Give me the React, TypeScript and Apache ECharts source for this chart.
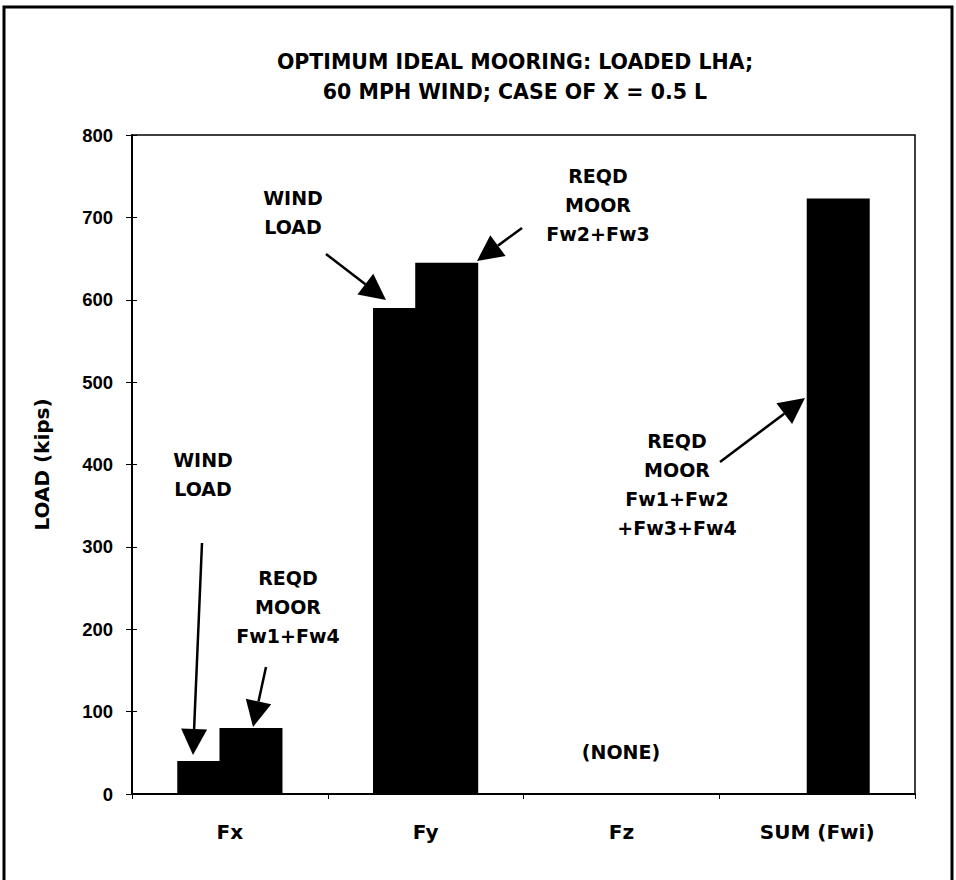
import React, { useEffect, useRef } from "react";
import * as echarts from "echarts";

const categories = ["Fx", "Fy", "Fz", "SUM (Fwi)"];
const windLoad: (number | null)[] = [40, 590, null, null];
const reqdMoor: (number | null)[] = [80, 645, null, 723];
const yTicks = { min: 0, max: 800, interval: 100 };

const titleLines = ["OPTIMUM IDEAL MOORING: LOADED LHA;", "60 MPH WIND; CASE OF X = 0.5 L"];

const annotations = [
  { text: "WIND\nLOAD", x: 203, y: 474, from: [202, 543], to: [193, 755] },
  { text: "REQD\nMOOR\nFw1+Fw4", x: 288, y: 607, from: [266, 667], to: [253, 727] },
  { text: "WIND\nLOAD", x: 293, y: 212, from: [326, 254], to: [386, 300] },
  { text: "REQD\nMOOR\nFw2+Fw3", x: 598, y: 205, from: [522, 228], to: [477, 261] },
  { text: "REQD\nMOOR\nFw1+Fw2\n+Fw3+Fw4", x: 677, y: 484, from: [720, 462], to: [805, 398] },
  { text: "(NONE)", x: 621, y: 752, from: null, to: null },
];

const BOLD = "DejaVu Sans";

function arrow(from: number[], to: number[]) {
  const dx = to[0] - from[0];
  const dy = to[1] - from[1];
  const len = Math.sqrt(dx * dx + dy * dy);
  const ux = dx / len;
  const uy = dy / len;
  const L = 26;
  const W = 26;
  const bx = to[0] - ux * L;
  const by = to[1] - uy * L;
  const nx = -uy;
  const ny = ux;
  return [
    {
      type: "line",
      shape: { x1: from[0], y1: from[1], x2: bx, y2: by },
      style: { stroke: "#000", lineWidth: 2.5 },
      silent: true,
    },
    {
      type: "polygon",
      shape: {
        points: [
          [to[0], to[1]],
          [bx + (nx * W) / 2, by + (ny * W) / 2],
          [bx - (nx * W) / 2, by - (ny * W) / 2],
        ],
      },
      style: { fill: "#000" },
      silent: true,
    },
  ];
}

export default function App() {
  const ref = useRef<HTMLDivElement>(null);
  useEffect(() => {
    if (!ref.current) return;
    const chart = echarts.init(ref.current, null, { renderer: "svg" });
    const graphics: any[] = [
      {
        type: "rect",
        shape: { x: 4, y: 7, width: 948, height: 878 },
        style: { fill: "none", stroke: "#000", lineWidth: 3 },
        silent: true,
      },
    ];
    annotations.forEach((a) => {
      graphics.push({
        type: "text",
        x: a.x,
        y: a.y,
        style: {
          text: a.text,
          font: `bold 19px "${BOLD}"`,
          fill: "#000",
          align: "center",
          verticalAlign: "middle",
          lineHeight: 29,
        },
        silent: true,
      });
      if (a.from && a.to) graphics.push(...arrow(a.from, a.to));
    });

    const baseY = {
      type: "value",
      min: yTicks.min,
      max: yTicks.max,
      interval: yTicks.interval,
      position: "left",
      splitLine: { show: false },
    };

    chart.setOption({
      animation: false,
      backgroundColor: "#fff",
      title: {
        text: titleLines.join("\n"),
        left: 510,
        top: 42,
        textAlign: "center",
        textStyle: {
          fontFamily: BOLD,
          fontWeight: "bold",
          fontSize: 20.5,
          lineHeight: 30,
          color: "#000",
        },
      },
      grid: {
        left: 132,
        right: 41,
        top: 135,
        bottom: 86,
        show: true,
        borderColor: "#000",
        borderWidth: 1.5,
        containLabel: false,
      },
      xAxis: {
        type: "category",
        data: categories,
        axisLine: { lineStyle: { color: "#000", width: 2 } },
        axisTick: { show: true, length: 5, lineStyle: { color: "#000" } },
        axisLabel: {
          margin: 28,
          color: "#000",
          fontFamily: BOLD,
          fontWeight: "bold",
          fontSize: 20,
        },
      },
      yAxis: [
        {
          ...baseY,
          name: "LOAD (kips)",
          nameLocation: "middle",
          nameGap: 80,
          nameRotate: 90,
          nameTextStyle: {
            fontFamily: BOLD,
            fontWeight: "bold",
            fontSize: 20,
            color: "#000",
          },
          axisLine: { show: true, lineStyle: { color: "#000", width: 2 } },
          axisTick: { show: true, length: 6, lineStyle: { color: "#000" } },
          axisLabel: {
            margin: 19,
            color: "#000",
            fontFamily: "Liberation Sans",
            fontWeight: "bold",
            fontSize: 18.5,
          },
        },
        {
          ...baseY,
          axisLine: { show: false },
          axisTick: { show: true, inside: true, length: 5, lineStyle: { color: "#000" } },
          axisLabel: { show: false },
        },
      ],
      series: [
        {
          name: "WIND LOAD",
          type: "bar",
          data: windLoad,
          barWidth: 63,
          barGap: "-33%",
          itemStyle: { color: "#000" },
        },
        {
          name: "REQD MOOR",
          type: "bar",
          data: reqdMoor,
          barWidth: 63,
          barGap: "-33%",
          itemStyle: { color: "#000" },
        },
      ],
      graphic: graphics,
    });
    return () => chart.dispose();
  }, []);
  return (
    <div
      ref={ref}
      style={{ position: "absolute", left: 0, top: 0, width: 956, height: 880, background: "#fff" }}
    />
  );
}
